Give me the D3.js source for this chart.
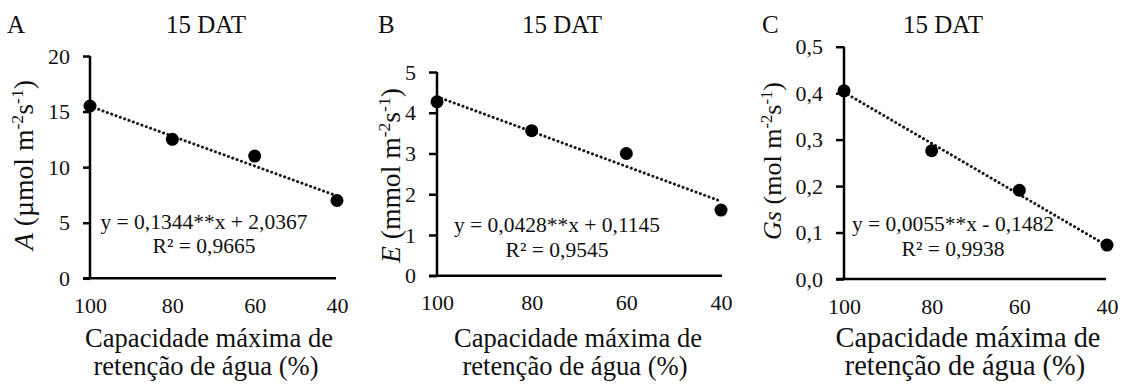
<!DOCTYPE html>
<html>
<head>
<meta charset="utf-8">
<script src="https://cdn.jsdelivr.net/npm/d3@7/dist/d3.min.js"></script>
<style>
  html, body { margin: 0; padding: 0; background: #fff; }
  svg { display: block; }
</style>
</head>
<body>
<svg id="chart" width="1125" height="384" font-family="Liberation Serif"></svg>
<script>
// ---- data ----
const capacity = [100, 80, 60, 40];
const photosynthesisA = [15.5, 12.5, 11.0, 7.0];
const transpirationE = [4.27, 3.56, 3.0, 1.61];
const conductanceGs = [0.405, 0.276, 0.191, 0.073];

const xTicks = [100, 80, 60, 40];
const yTicksA = [0, 5, 10, 15, 20];
const yTicksE = [0, 1, 2, 3, 4, 5];
const yTicksGs = [0, 0.1, 0.2, 0.3, 0.4, 0.5];

const slopes = [0.1344, 0.0428, 0.0055];
const intercepts = [2.0367, 0.1145, -0.1482];
const equations = ["y = 0,1344**x + 2,0367", "y = 0,0428**x + 0,1145", "y = 0,0055**x - 0,1482"];
const r2Labels = ["R² = 0,9665", "R² = 0,9545", "R² = 0,9938"];
const panelLetters = ["A", "B", "C"];
const panelTitle = "15 DAT";
const yVarNames = ["A", "E", "Gs"];
const yUnitsPrefix = [" (µmol m", " (mmol m", " (mol m"];
const xTitleLines = ["Capacidade máxima de", "retenção de água (%)"];

// ---- layout (positions/sizes) ----
const FONT = "Liberation Serif";
const panels = [
  { values: photosynthesisA, yTicks: yTicksA, yMax: 20, fmt: d => d3.format("d")(d),
    x0: 90, x1: 337, y0: 278.3, y1: 56, axisEnd: 336, letterX: 7, titleX: 206,
    eqX: 204, eqY: 229, r2Y: 253, yLabX: 33, yLabY: 165, yLabLen: 170, tickLen: 7,
    xTitleX: 209, xTitleW: 248 },
  { values: transpirationE, yTicks: yTicksE, yMax: 5, fmt: d => d3.format("d")(d),
    x0: 437, x1: 721, y0: 275.7, y1: 72, axisEnd: 722, letterX: 378, titleX: 562,
    eqX: 557, eqY: 232, r2Y: 257, yLabX: 400, yLabY: 175.5, yLabLen: 175, tickLen: 8,
    xTitleX: 578, xTitleW: 248 },
  { values: conductanceGs, yTicks: yTicksGs, yMax: 0.5, fmt: d => d3.format(".1f")(d).replace(".", ","),
    x0: 844, x1: 1107, y0: 279, y1: 46.7, axisEnd: 1106, letterX: 762, titleX: 943,
    eqX: 953, eqY: 231, r2Y: 256, yLabX: 781, yLabY: 161, yLabLen: 158, tickLen: 8,
    xTitleX: 968, xTitleW: 265 }
];

const svg = d3.select("#chart");

function fitFont(sel, base, target) {
  const L = sel.node().getComputedTextLength();
  return L > 0 ? base * target / L : base;
}

panels.forEach((p, i) => {
  const g = svg.append("g").attr("font-family", FONT);
  const x = d3.scaleLinear().domain([100, 40]).range([p.x0, p.x1]);
  const y = d3.scaleLinear().domain([0, p.yMax]).range([p.y0, p.y1]);

  // panel letter and title
  g.append("text").attr("x", p.letterX).attr("y", 33).attr("font-size", 25).attr("font-family", FONT).attr("fill", "#111").text(panelLetters[i]);
  g.append("text").attr("x", p.titleX).attr("y", 33).attr("font-size", 25).attr("font-family", FONT).attr("text-anchor", "middle").attr("fill", "#111").text(panelTitle);

  // y axis
  const yAxis = d3.axisLeft(y).tickValues(p.yTicks).tickFormat(p.fmt).tickSize(p.tickLen).tickPadding(13);
  const ya = g.append("g").attr("transform", `translate(${p.x0},0)`).call(yAxis).attr("font-family", FONT).attr("font-size", 22);
  ya.select(".domain").attr("stroke", "#000").attr("stroke-width", 2.5).attr("d", `M0,${p.y1}H0V${p.y0}`);
  ya.selectAll(".tick line").attr("stroke", "#000").attr("stroke-width", 2.5);
  ya.selectAll(".tick text").attr("font-size", 22).attr("font-family", FONT).attr("fill", "#111");

  // x axis
  const xAxis = d3.axisBottom(x).tickValues(xTicks).tickFormat(d3.format("d")).tickSize(0).tickPadding(19);
  const xa = g.append("g").attr("transform", `translate(0,${p.y0})`).call(xAxis).attr("font-family", FONT).attr("font-size", 22);
  xa.select(".domain").attr("stroke", "#000").attr("stroke-width", 2.5).attr("d", `M${p.x0 - p.tickLen},0H${p.axisEnd}`);
  xa.selectAll(".tick text").attr("font-size", 22).attr("font-family", FONT).attr("fill", "#111");

  // trendline
  const trend = capacity.map(c => [c, slopes[i] * c + intercepts[i]]);
  g.append("path")
    .attr("d", d3.line().x(d => x(d[0])).y(d => y(d[1]))([trend[0], trend[trend.length - 1]]))
    .attr("fill", "none").attr("stroke", "#1a1a1a").attr("stroke-width", 3)
    .attr("stroke-linecap", "round").attr("stroke-dasharray", "0.1 4.5");

  // points
  g.selectAll("circle.pt").data(capacity.map((c, k) => [c, p.values[k]])).enter()
    .append("circle").attr("class", "pt")
    .attr("cx", d => x(d[0])).attr("cy", d => y(d[1])).attr("r", 6.5).attr("fill", "#000");

  // equation
  g.append("text").attr("x", p.eqX).attr("y", p.eqY).attr("font-size", 21.5).attr("font-family", FONT).attr("text-anchor", "middle").attr("fill", "#111").text(equations[i]);
  g.append("text").attr("x", p.eqX).attr("y", p.r2Y).attr("font-size", 21.5).attr("font-family", FONT).attr("text-anchor", "middle").attr("fill", "#111").text(r2Labels[i]);

  // y label (rich text)
  const yl = g.append("text").attr("font-family", FONT).attr("fill", "#111");
  const buildLabel = (fs) => {
    yl.selectAll("*").remove();
    const sup = fs * 0.64, up = fs * 0.36;
    yl.attr("font-size", fs);
    yl.append("tspan").attr("font-style", "italic").text(yVarNames[i]);
    yl.append("tspan").text(yUnitsPrefix[i]);
    yl.append("tspan").attr("font-size", sup).attr("dy", -up).text("-2");
    yl.append("tspan").attr("dy", up).text("s");
    yl.append("tspan").attr("font-size", sup).attr("dy", -up).text("-1");
    yl.append("tspan").attr("dy", up).text(")");
  };
  buildLabel(25);
  const fsY = Math.min(28, fitFont(yl, 25, p.yLabLen));
  buildLabel(fsY);
  const Ly = yl.node().getComputedTextLength();
  yl.attr("x", -Ly / 2).attr("y", 0)
    .attr("transform", `translate(${p.yLabX},${p.yLabY}) rotate(-90)`);

  // x title (two lines)
  const t1 = g.append("text").attr("font-size", 26).attr("font-family", FONT).attr("fill", "#111")
    .attr("text-anchor", "middle").attr("x", p.xTitleX).attr("y", 347).text(xTitleLines[0]);
  const fsX = fitFont(t1, 26, p.xTitleW);
  t1.attr("font-size", fsX);
  g.append("text").attr("font-size", fsX).attr("font-family", FONT).attr("fill", "#111")
    .attr("text-anchor", "middle").attr("x", p.xTitleX - 3).attr("y", 375).text(xTitleLines[1]);
});
</script>
</body>
</html>
